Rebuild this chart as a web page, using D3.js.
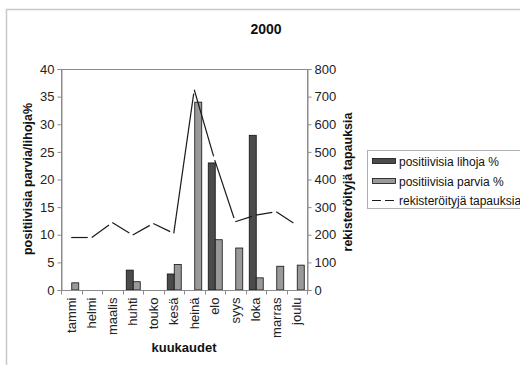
<!DOCTYPE html>
<html>
<head>
<meta charset="utf-8">
<script src="https://cdn.jsdelivr.net/npm/d3@7"></script>
<style>
  html, body { margin: 0; padding: 0; background: #fff; }
  svg { display: block; font-family: "Liberation Sans", Arial, sans-serif; }
</style>
</head>
<body>
<svg id="chart" width="520" height="365"></svg>
<script>
// Monthly data, year 2000
const months = ["tammi", "helmi", "maalis", "huhti", "touko", "kesä", "heinä", "elo", "syys", "loka", "marras", "joulu"];
const lihojaPct = [0, 0, 0, 3.6, 0, 2.9, 0, 23, 0, 28, 0, 0];
const parviaPct = [1.3, 0, 0, 1.5, 0, 4.6, 34, 9.1, 7.6, 2.2, 4.3, 4.5];
const tapaukset = [190, 190, 244, 199, 241, 205, 725, 470, 247, 271, 283, 235];
const leftTicks = [0, 5, 10, 15, 20, 25, 30, 35, 40];
const rightTicks = [0, 100, 200, 300, 400, 500, 600, 700, 800];
const seriesNames = ["positiivisia lihoja %", "positiivisia parvia %", "rekisteröityjä tapauksia"];

const svg = d3.select("#chart");
const plot = { left: 61, right: 307, top: 69, bottom: 290 };

// Outer chart frame (top and left edges)
svg.append("path")
  .attr("d", "M6.5,365 V9.5 H520")
  .attr("fill", "none").attr("stroke", "#c8c8c8").attr("stroke-width", 1.5);

const x = d3.scaleBand().domain(months).range([plot.left, plot.right]);
const yL = d3.scaleLinear().domain([0, 40]).range([plot.bottom, plot.top]);
const yR = d3.scaleLinear().domain([0, 800]).range([plot.bottom, plot.top]);

// Plot area border
svg.append("rect")
  .attr("x", plot.left + 0.5).attr("y", plot.top + 0.5)
  .attr("width", plot.right - plot.left).attr("height", plot.bottom - plot.top)
  .attr("fill", "none").attr("stroke", "#8c8c8c");

// Bars
const barW = 7;
const cx = m => x(m) + x.bandwidth() / 2;
svg.append("g").selectAll("rect")
  .data(months.map((m, i) => ({ m, v: lihojaPct[i] })).filter(d => d.v > 0))
  .join("rect")
  .attr("x", d => cx(d.m) - barW + 0.5)
  .attr("y", d => yL(d.v))
  .attr("width", barW)
  .attr("height", d => yL(0) - yL(d.v))
  .attr("fill", "#4b4b4b").attr("stroke", "#111").attr("stroke-width", 0.8);

svg.append("g").selectAll("rect")
  .data(months.map((m, i) => ({ m, v: parviaPct[i] })).filter(d => d.v > 0))
  .join("rect")
  .attr("x", d => cx(d.m) + 0.5)
  .attr("y", d => yL(d.v))
  .attr("width", barW)
  .attr("height", d => yL(0) - yL(d.v))
  .attr("fill", "#999999").attr("stroke", "#111").attr("stroke-width", 0.8);

// Long-dash line for registered cases, dash restarting on each segment
const pts = months.map((m, i) => [cx(m), yR(tapaukset[i])]);
const segLine = d3.line();
const lineG = svg.append("g");
for (let i = 0; i < pts.length - 1; i++) {
  const p = lineG.append("path")
    .attr("d", segLine([pts[i], pts[i + 1]]))
    .attr("fill", "none").attr("stroke", "#1a1a1a").attr("stroke-width", 1.2);
  const len = p.node().getTotalLength();
  p.attr("stroke-dasharray", `${Math.max(len - 4, 1)} 4`);
}

// Axes
const axisStyle = g => {
  g.selectAll("path").attr("stroke", "#8c8c8c");
  g.selectAll("line").attr("stroke", "#8c8c8c");
  g.selectAll("text").attr("fill", "#222").style("font-size", "13px")
    .style("font-family", "'Liberation Sans', Arial, sans-serif");
};

svg.append("g")
  .attr("transform", `translate(${plot.left + 0.5},0)`)
  .call(d3.axisLeft(yL).tickValues(leftTicks).tickSize(4).tickPadding(3))
  .call(axisStyle);

svg.append("g")
  .attr("transform", `translate(${plot.right + 0.5},0)`)
  .call(d3.axisRight(yR).tickValues(rightTicks).tickSize(4).tickPadding(3))
  .call(axisStyle);

// Category axis: ticks at band boundaries, rotated labels
const xAxis = svg.append("g").attr("transform", `translate(0,${plot.bottom + 0.5})`);
xAxis.append("line")
  .attr("x1", plot.left).attr("x2", plot.right + 1)
  .attr("stroke", "#8c8c8c");
xAxis.selectAll("line.tick")
  .data(months.concat(["_end"]))
  .join("line").attr("class", "tick")
  .attr("x1", (d, i) => Math.round(plot.left + i * x.bandwidth()) + 0.5)
  .attr("x2", (d, i) => Math.round(plot.left + i * x.bandwidth()) + 0.5)
  .attr("y1", 0).attr("y2", 4)
  .attr("stroke", "#8c8c8c");
xAxis.selectAll("text")
  .data(months)
  .join("text")
  .attr("transform", d => `translate(${cx(d) + 4.5},7) rotate(-90)`)
  .attr("text-anchor", "end")
  .style("font-size", "13px")
  .attr("fill", "#222")
  .text(d => d);

// Titles
svg.append("text")
  .attr("x", 266).attr("y", 34)
  .attr("text-anchor", "middle")
  .style("font-size", "14px").style("font-weight", "bold")
  .attr("fill", "#111")
  .text("2000");

svg.append("text")
  .attr("x", 184).attr("y", 352)
  .attr("text-anchor", "middle")
  .style("font-size", "13px").style("font-weight", "bold")
  .attr("fill", "#111")
  .text("kuukaudet");

svg.append("text")
  .attr("transform", "translate(32,179) rotate(-90)")
  .attr("text-anchor", "middle")
  .style("font-size", "12.5px").style("font-weight", "bold")
  .attr("fill", "#111")
  .text("positiivisia parvia/lihoja%");

svg.append("text")
  .attr("transform", "translate(352,182) rotate(-90)")
  .attr("text-anchor", "middle")
  .style("font-size", "12.5px").style("font-weight", "bold")
  .attr("fill", "#111")
  .text("rekisteröityjä tapauksia");

// Legend
const legend = svg.append("g");
legend.append("rect")
  .attr("x", 367.5).attr("y", 150.5).attr("width", 160).attr("height", 58)
  .attr("fill", "#fff").attr("stroke", "#b0b0b0");
const rowsY = [161, 181, 200];
legend.append("rect").attr("x", 372.5).attr("y", rowsY[0] - 2.5).attr("width", 23).attr("height", 5)
  .attr("fill", "#4b4b4b").attr("stroke", "#111").attr("stroke-width", 0.8);
legend.append("rect").attr("x", 372.5).attr("y", rowsY[1] - 2.5).attr("width", 23).attr("height", 5)
  .attr("fill", "#999999").attr("stroke", "#111").attr("stroke-width", 0.8);
legend.append("line")
  .attr("x1", 372).attr("x2", 396).attr("y1", rowsY[2] + 0.5).attr("y2", rowsY[2] + 0.5)
  .attr("stroke", "#1a1a1a").attr("stroke-width", 1.2).attr("stroke-dasharray", "9 4");
legend.selectAll("text.lbl")
  .data(seriesNames)
  .join("text").attr("class", "lbl")
  .attr("x", 399).attr("y", (d, i) => rowsY[i] + 4.5)
  .style("font-size", "12px")
  .attr("fill", "#111")
  .text(d => d);
</script>
</body>
</html>
